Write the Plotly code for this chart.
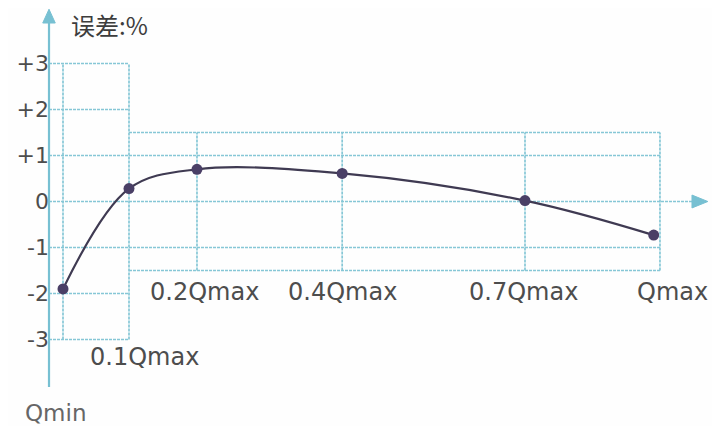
import plotly.graph_objects as go

# ---- data ----
categories = ["Qmin", "0.1Qmax", "0.2Qmax", "0.4Qmax", "0.7Qmax", "Qmax"]
x_pos = [0.0, 1.0, 2.03, 4.23, 7.0, 8.95]          # schematic flow positions
errors = [-1.9, 0.28, 0.70, 0.61, 0.02, -0.73]     # error in %
y_ticks = [-3, -2, -1, 0, 1, 2, 3]
y_ticktext = ["-3", "-2", "-1", "0", "+1", "+2", "+3"]

GRID = "#86c7d6"
AXIS = "#77c0d2"
TEXT = "#4d4d4d"
CURVE = "#3f3a52"
MARK = "#4a3f66"
FONT = "DejaVu Sans"

W, H = 712, 418   # page body has an 8px margin
x_left = -0.212   # y-axis position
x_right = 9.045   # right edge of grid

fig = go.Figure()

fig.add_trace(go.Scatter(
    x=x_pos, y=errors, mode="lines+markers",
    line=dict(color=CURVE, width=2.2, shape="spline", smoothing=1.0),
    marker=dict(color=MARK, size=11),
    hoverinfo="x+y", showlegend=False, cliponaxis=False,
))

shapes = []
def hline(y, x0, x1):
    shapes.append(dict(type="line", xref="x", yref="y", x0=x0, x1=x1, y0=y, y1=y,
                       line=dict(color=GRID, width=1.7, dash="3px,1px"), layer="below"))
def vline(x, y0, y1):
    shapes.append(dict(type="line", xref="x", yref="y", x0=x, x1=x, y0=y0, y1=y1,
                       line=dict(color=GRID, width=1.7, dash="3px,1px"), layer="below"))

# left box
vline(x_pos[0], -3, 3)
vline(x_pos[1], -3, 3)
for v in [3, 2, -2, -3]:
    hline(v, x_left, x_pos[1])
for v in [1, -1]:
    hline(v, x_left, x_right)
hline(0, x_left, 9.56)
# right box
hline(1.5, x_pos[1], x_right)
hline(-1.5, x_pos[1], x_right)
for xv in [x_pos[2], x_pos[3], x_pos[4], x_right]:
    vline(xv, -1.5, 1.5)

# y axis line + arrow
shapes.append(dict(type="line", xref="x", yref="y", x0=x_left, x1=x_left, y0=-4.03, y1=3.92,
                   line=dict(color=AXIS, width=2.2)))
shapes.append(dict(type="path", xref="x", yref="y",
                   path=f"M {x_left-0.095},3.88 L {x_left},4.18 L {x_left+0.095},3.88 Z",
                   fillcolor=AXIS, line=dict(color=AXIS, width=1)))
# x arrow head
shapes.append(dict(type="path", xref="x", yref="y",
                   path="M 9.53,0.14 L 9.77,0 L 9.53,-0.14 Z",
                   fillcolor=AXIS, line=dict(color=AXIS, width=1)))
# right page edge band
shapes.append(dict(type="rect", xref="paper", yref="paper", x0=708/W, x1=1, y0=0, y1=1,
                   fillcolor="#5fb6cd", line=dict(width=0)))

annotations = []
label_pos = [(-0.12, -4.6), (1.24, -3.38), (2.15, -1.97), (4.23, -1.97), (6.97, -1.97), (9.23, -1.97)]
for cat, (lx, ly) in zip(categories, label_pos):
    annotations.append(dict(x=lx, y=ly, xref="x", yref="y", text=cat, showarrow=False,
                            font=dict(family=FONT, size=24 if cat != "Qmin" else 23,
                                      color=TEXT if cat != "Qmin" else "#666666")))
annotations.append(dict(x=0.71, y=3.84, xref="x", yref="y", text="误差:%", showarrow=False,
                        font=dict(family="Noto Sans CJK SC", size=24, color="#3d3d3d")))

fig.update_layout(
    width=W, height=H,
    margin=dict(l=0, r=0, t=0, b=0),
    paper_bgcolor="#fefefe", plot_bgcolor="#fefefe",
    shapes=shapes, annotations=annotations,
    xaxis=dict(range=[-55/66, (W-55)/66], visible=False, fixedrange=True),
    yaxis=dict(range=[-(H-193.5)/46, 193.5/46], anchor="free", position=41/W,
               tickvals=y_ticks, ticktext=y_ticktext, showgrid=False, zeroline=False,
               showline=False, ticks="", tickfont=dict(family=FONT, size=22, color=TEXT),
               fixedrange=True),
)

fig.write_html("out.html")
